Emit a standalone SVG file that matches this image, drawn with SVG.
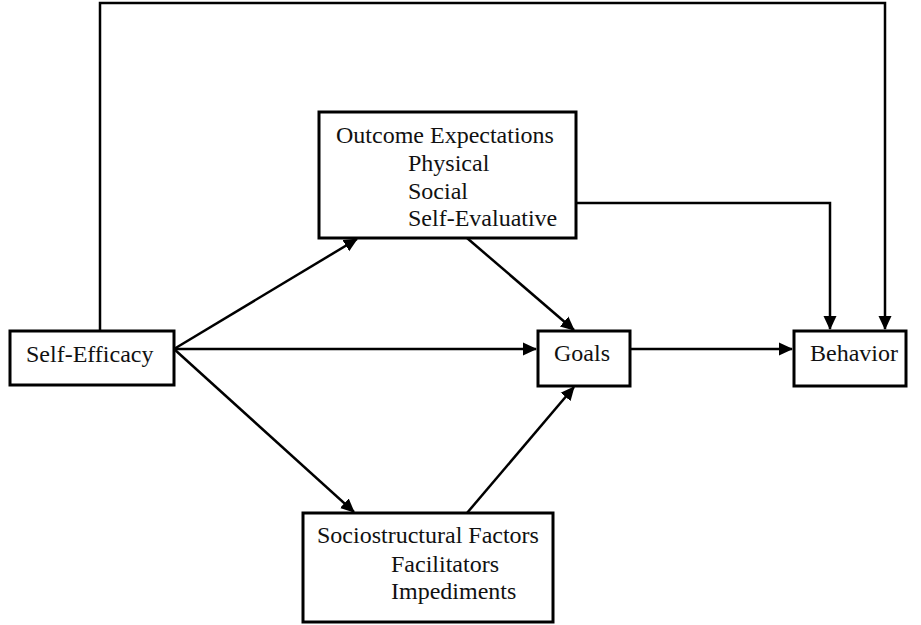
<svg xmlns="http://www.w3.org/2000/svg" width="921" height="625" viewBox="0 0 921 625">
<defs>
<style>
.box{fill:#fff;stroke:#000;stroke-width:3}
.t{font-family:"Liberation Serif","Times New Roman",serif;font-size:24px;fill:#111}
.c{fill:none;stroke:#000;stroke-width:2.5}
</style>
<marker id="ah" markerWidth="14" markerHeight="14" viewBox="0 0 14 14" refX="13" refY="7" orient="auto" markerUnits="userSpaceOnUse">
<path d="M0,0.5 L14,7 L0,13.5 Z" fill="#000"/>
</marker>
</defs>
<rect width="921" height="625" fill="#fff"/>
<g id="connectors">
<polyline class="c" points="100,331 100,3 885,3 885,329" marker-end="url(#ah)"/>
<polyline class="c" points="576,203 830,203 830,329" marker-end="url(#ah)"/>
<line class="c" x1="174" y1="349" x2="357" y2="239" marker-end="url(#ah)"/>
<line class="c" x1="174" y1="349" x2="536" y2="349" marker-end="url(#ah)"/>
<line class="c" x1="174" y1="349" x2="354" y2="512" marker-end="url(#ah)"/>
<line class="c" x1="467" y1="238" x2="574" y2="330" marker-end="url(#ah)"/>
<line class="c" x1="467" y1="513" x2="574" y2="387" marker-end="url(#ah)"/>
<line class="c" x1="630" y1="349" x2="792" y2="349" marker-end="url(#ah)"/>
</g>
<g id="self-efficacy">
<rect class="box" x="10" y="331" width="164" height="54"/>
<text class="t" x="26" y="362">Self-Efficacy</text>
</g>
<g id="outcome-expectations">
<rect class="box" x="319" y="112" width="257" height="126"/>
<text class="t" x="336" y="143">Outcome Expectations</text>
<text class="t" x="408" y="171">Physical</text>
<text class="t" x="408" y="199">Social</text>
<text class="t" x="408" y="226">Self-Evaluative</text>
</g>
<g id="goals">
<rect class="box" x="538" y="331" width="92" height="55"/>
<text class="t" x="554" y="361">Goals</text>
</g>
<g id="behavior">
<rect class="box" x="794" y="331" width="112" height="55"/>
<text class="t" x="810" y="361">Behavior</text>
</g>
<g id="sociostructural-factors">
<rect class="box" x="303" y="513" width="250" height="109"/>
<text class="t" x="317" y="543">Sociostructural Factors</text>
<text class="t" x="391" y="572">Facilitators</text>
<text class="t" x="391" y="599">Impediments</text>
</g>
</svg>
